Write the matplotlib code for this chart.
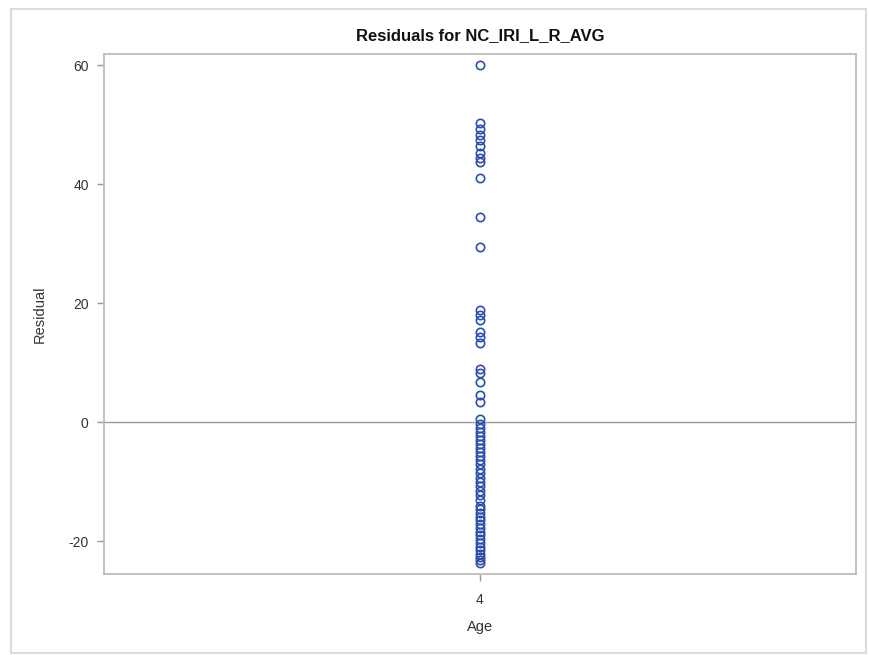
import matplotlib.pyplot as plt
import matplotlib.patches as mp
import numpy as np

plt.rcParams['font.family'] = ['Liberation Sans', 'DejaVu Sans']
plt.rcParams['axes.unicode_minus'] = False

# residuals, all at Age = 4
age_labels = ["4"]
residuals = [60.0, 50.2, 49.2, 48.2, 47.4, 46.4, 45.2, 44.4, 43.7, 41.1, 34.5,
             29.5, 18.8, 18.0, 17.1, 15.2, 14.3, 13.3, 9.0, 8.2, 6.8, 4.5, 3.4,
             0.6, -0.3, -1.0, -1.6, -2.3, -3.0, -3.6, -4.3, -5.0, -5.7, -6.3,
             -7.0, -7.8, -8.6, -9.3, -10.0, -10.8, -11.5, -12.3, -13.0, -14.0,
             -14.6, -15.2, -15.9, -16.5, -17.1, -17.8, -18.4, -19.0, -19.7,
             -20.3, -20.9, -21.5, -22.1, -22.7, -23.2, -23.6]
yticks = [-20, 0, 20, 40, 60]

fig = plt.figure(figsize=(8.69, 6.55), dpi=100)
ax = fig.add_axes([104/869, 1 - 574/655, 752/869, 520/655])

fig.patches.append(mp.Rectangle((11/869, 1 - 653/655), 855/869, 644/655,
                                transform=fig.transFigure, fill=False,
                                edgecolor='#dcdcdc', linewidth=1.5))

xs = np.zeros(len(residuals))
ax.plot(xs, residuals, linestyle='None', marker='o', markersize=6,
        markerfacecolor='none', markeredgecolor='#2c4fae', markeredgewidth=1.2,
        zorder=3)
ax.axhline(0, color='#999999', linewidth=1, zorder=2)

ax.set_xlim(-1, 1)
ax.set_xticks([0])
ax.set_xticklabels(age_labels)
ax.set_ylim(-25.5, 61.85)
ax.set_yticks(yticks)

for s in ax.spines.values():
    s.set_color('#b8b8b8')
    s.set_linewidth(1.2)
ax.tick_params(axis='both', colors='#999999', labelcolor='#333333',
               labelsize=10, length=5, width=1)
ax.tick_params(axis='x', pad=9)
ax.tick_params(axis='y', pad=6)

ax.set_title("Residuals for NC_IRI_L_R_AVG", fontsize=12, fontweight='bold',
             color='#111111', pad=10)
ax.set_xlabel("Age", fontsize=10.5, color='#333333', labelpad=9)
ax.set_ylabel("Residual", fontsize=10.5, color='#333333', labelpad=16)

plt.savefig("out.png", dpi=100)
